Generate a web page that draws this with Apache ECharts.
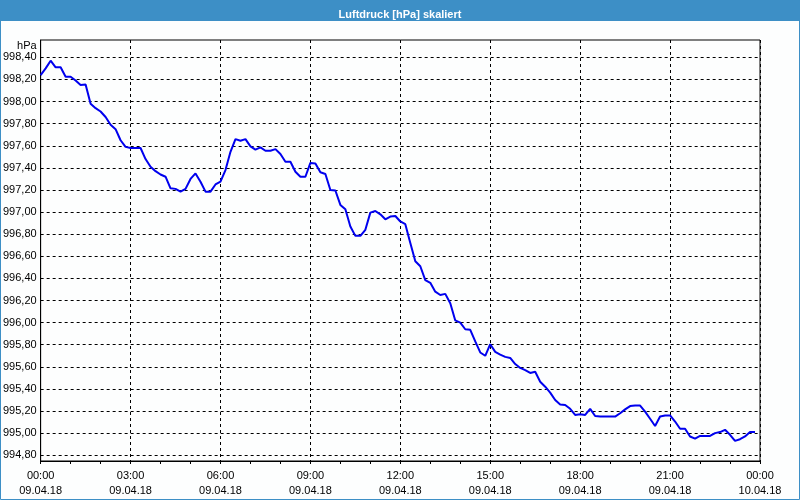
<!DOCTYPE html>
<html><head><meta charset="utf-8">
<script src="https://cdn.jsdelivr.net/npm/echarts@6/dist/echarts.min.js"></script>
<style>html,body{margin:0;padding:0;background:#fdfefe}#c{width:800px;height:500px}</style>
</head><body><div id="c"></div>
<script>
const titleText = 'Luftdruck [hPa] skaliert';
const unitName = 'hPa';
const dayLabels = ['09.04.18', '10.04.18'];
const times = [
'00:00','00:10','00:20','00:30','00:40','00:50','01:00','01:10','01:20','01:30','01:40','01:50',
'02:00','02:10','02:20','02:30','02:40','02:50','03:00','03:10','03:20','03:30','03:40','03:50',
'04:00','04:10','04:20','04:30','04:40','04:50','05:00','05:10','05:20','05:30','05:40','05:50',
'06:00','06:10','06:20','06:30','06:40','06:50','07:00','07:10','07:20','07:30','07:40','07:50',
'08:00','08:10','08:20','08:30','08:40','08:50','09:00','09:10','09:20','09:30','09:40','09:50',
'10:00','10:10','10:20','10:30','10:40','10:50','11:00','11:10','11:20','11:30','11:40','11:50',
'12:00','12:10','12:20','12:30','12:40','12:50','13:00','13:10','13:20','13:30','13:40','13:50',
'14:00','14:10','14:20','14:30','14:40','14:50','15:00','15:10','15:20','15:30','15:40','15:50',
'16:00','16:10','16:20','16:30','16:40','16:50','17:00','17:10','17:20','17:30','17:40','17:50',
'18:00','18:10','18:20','18:30','18:40','18:50','19:00','19:10','19:20','19:30','19:40','19:50',
'20:00','20:10','20:20','20:30','20:40','20:50','21:00','21:10','21:20','21:30','21:40','21:50',
'22:00','22:10','22:20','22:30','22:40','22:50','23:00','23:10','23:20','23:30','23:40','23:50'
];
const pressure = [
998.24, 998.30, 998.37, 998.31, 998.31, 998.225,
998.225, 998.19, 998.15, 998.155, 997.98, 997.94,
997.91, 997.86, 997.79, 997.75, 997.65, 997.59,
997.58, 997.58, 997.58, 997.48, 997.41, 997.37,
997.34, 997.32, 997.215, 997.21, 997.185, 997.21,
997.30, 997.35, 997.275, 997.185, 997.185, 997.25,
997.275, 997.38, 997.545, 997.66, 997.645, 997.66,
997.595, 997.565, 997.585, 997.555, 997.555, 997.57,
997.525, 997.455, 997.455, 997.365, 997.32, 997.32,
997.445, 997.44, 997.36, 997.345, 997.20, 997.195,
997.065, 997.025, 996.87, 996.785, 996.785, 996.84,
996.995, 997.01, 996.98, 996.935, 996.96, 996.965,
996.915, 996.89, 996.72, 996.555, 996.51, 996.385,
996.36, 996.28, 996.25, 996.26, 996.175, 996.02,
996.00, 995.94, 995.935, 995.83, 995.73, 995.70,
995.805, 995.735, 995.71, 995.69, 995.68, 995.625,
995.59, 995.57, 995.545, 995.555, 995.465, 995.42,
995.367, 995.30, 995.26, 995.255, 995.22, 995.165,
995.17, 995.165, 995.22, 995.155, 995.15, 995.15,
995.15, 995.15, 995.18, 995.215, 995.245, 995.25,
995.25, 995.195, 995.13, 995.065, 995.15, 995.16,
995.16, 995.105, 995.04, 995.04, 994.97, 994.95,
994.975, 994.975, 994.975, 995.00, 995.01, 995.03,
994.985, 994.93, 994.945, 994.97, 995.01, 995.01
];
const yTickValues = [994.8, 995.0, 995.2, 995.4, 995.6, 995.8, 996.0, 996.2, 996.4, 996.6, 996.8, 997.0, 997.2, 997.4, 997.6, 997.8, 998.0, 998.2, 998.4];

const toMinutes = s => { const p = s.split(':'); return (+p[0]) * 60 + (+p[1]); };
const seriesData = times.map((t, i) => [toMinutes(t), pressure[i]]);
const pad2 = n => (n < 10 ? '0' : '') + n;

const FONT = '"Liberation Sans", Arial, sans-serif';
const chart = echarts.init(document.getElementById('c'), null, {renderer: 'canvas'});
chart.setOption({
  animation: false,
  backgroundColor: '#fdfefe',
  title: {
    text: titleText, left: 'center', top: 4,
    textStyle: {color: '#ffffff', fontFamily: FONT, fontSize: 11, fontWeight: 'bold'}
  },
  graphic: [
    {type: 'rect', z: -10, silent: true, shape: {x: 0, y: 0, width: 800, height: 21}, style: {fill: '#3d8fc6'}},
    {type: 'rect', z: -10, silent: true, shape: {x: 0.5, y: 0.5, width: 799, height: 499}, style: {fill: null, stroke: '#3d8fc6', lineWidth: 1}}
  ],
  grid: {left: 40, right: 40, top: 40, bottom: 39, show: true, borderColor: '#000', borderWidth: 1, backgroundColor: 'transparent'},
  xAxis: {
    type: 'value', min: 0, max: 1440, interval: 180,
    axisLine: {lineStyle: {color: '#000', width: 1}},
    axisTick: {show: true, length: 3, lineStyle: {color: '#000'}},
    minorTick: {show: true, splitNumber: 3, length: 3, lineStyle: {color: '#000'}},
    splitLine: {show: true, lineStyle: {color: '#000', type: [3, 3], width: 1}},
    axisLabel: {
      color: '#000', fontFamily: FONT, fontSize: 11, lineHeight: 15, margin: 7,
      formatter: v => pad2(Math.floor(v / 60) % 24) + ':' + pad2(v % 60) + '\n' + dayLabels[v >= 1440 ? 1 : 0]
    }
  },
  yAxis: {
    type: 'value', min: 994.748, max: 998.557,
    name: unitName, nameLocation: 'end', nameGap: -6,
    nameTextStyle: {color: '#000', fontFamily: FONT, fontSize: 11, align: 'right', verticalAlign: 'middle', padding: [0, 4, 0, 0]},
    axisLine: {show: true, lineStyle: {color: '#000', width: 1}},
    axisTick: {show: false, customValues: yTickValues},
    splitLine: {show: true, lineStyle: {color: '#000', type: [3, 3], width: 1}},
    axisLabel: {
      customValues: yTickValues, color: '#000', fontFamily: FONT, fontSize: 11, margin: 4,
      formatter: v => v.toFixed(2).replace('.', ',')
    }
  },
  series: [{
    type: 'line', data: seriesData, showSymbol: false, smooth: false,
    lineStyle: {color: '#0000ee', width: 2}, itemStyle: {color: '#0000ee'}
  }]
});
</script>
</body></html>
